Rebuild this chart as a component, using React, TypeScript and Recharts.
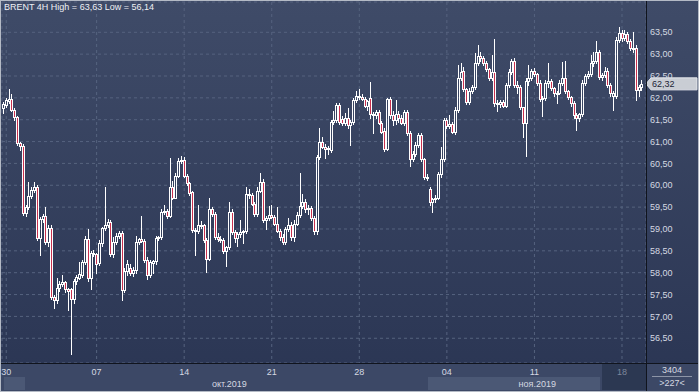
import React from 'react';
import { ComposedChart, Bar, XAxis, YAxis, CartesianGrid, ReferenceLine } from 'recharts';

type Ohlc = [number, number, number, number];

// open, high, low, close of each 4H bar
const weekSep30: Ohlc[] = [
  [61.77, 61.9, 61.65, 61.86], [61.84, 62.0, 61.8, 61.95], [61.93, 62.2, 61.88, 61.98], [61.98, 62.09, 61.7, 61.72],
  [61.72, 61.76, 61.5, 61.56], [61.56, 61.58, 60.92, 60.97], [60.97, 61.0, 60.81, 60.9], [60.9, 60.95, 59.33, 59.37],
  [59.37, 59.55, 59.3, 59.5], [59.5, 60.07, 59.45, 59.75], [59.75, 59.95, 59.7, 59.9], [59.9, 60.07, 59.85, 59.96],
  [59.96, 60.0, 58.75, 58.8], [58.8, 59.27, 58.41, 59.22], [59.22, 59.35, 59.15, 59.3], [59.3, 59.5, 58.65, 58.7],
  [58.7, 59.08, 58.62, 59.02], [59.02, 59.1, 57.4, 57.45], [57.45, 57.5, 57.2, 57.38], [57.38, 57.88, 57.3, 57.65],
  [57.65, 57.8, 57.58, 57.75], [57.75, 57.95, 57.7, 57.78], [57.78, 57.82, 57.55, 57.62], [57.62, 57.66, 57.15, 57.58],
  [57.62, 57.66, 56.14, 57.4], [57.4, 57.85, 57.3, 57.8], [57.8, 57.95, 57.75, 57.9], [57.88, 58.25, 57.85, 57.98],
  [57.95, 58.3, 57.9, 58.25], [58.25, 58.85, 58.2, 58.78], [58.78, 59.0, 57.82, 57.88], [57.88, 58.5, 57.62, 58.45],
  [58.45, 58.52, 58.38, 58.42],
];
const weekOct07: Ohlc[] = [
  [58.42, 58.45, 58.0, 58.2], [58.22, 58.75, 58.18, 58.68], [58.68, 59.05, 58.62, 59.02], [59.02, 59.95, 58.98, 59.1],
  [59.1, 59.22, 59.05, 59.15], [59.15, 59.2, 58.38, 58.42], [58.42, 58.82, 58.35, 58.7], [58.7, 58.9, 58.65, 58.85],
  [58.85, 58.95, 58.8, 58.9], [58.9, 58.95, 57.38, 57.6], [57.6, 58.1, 57.55, 58.05], [58.05, 58.3, 57.95, 58.2],
  [58.1, 58.2, 57.95, 58.0], [58.0, 58.12, 57.92, 58.06], [58.06, 58.85, 58.0, 58.7], [58.7, 58.8, 58.65, 58.76],
  [58.76, 59.3, 58.7, 58.72], [58.72, 58.78, 58.25, 58.3], [58.3, 58.35, 57.85, 57.95], [57.95, 58.3, 57.9, 58.25],
  [58.22, 58.3, 58.0, 58.27], [58.27, 58.85, 58.2, 58.8], [58.8, 58.85, 58.75, 58.82], [58.82, 59.45, 58.78, 59.4],
  [59.4, 59.56, 59.35, 59.42], [59.42, 59.45, 59.25, 59.3], [59.3, 60.62, 59.28, 59.97], [59.97, 60.1, 59.68, 59.72],
  [59.72, 60.28, 59.7, 60.22], [60.22, 60.62, 60.18, 60.55], [60.55, 60.66, 60.5, 60.58],
];
const weekOct14: Ohlc[] = [
  [60.58, 60.64, 60.2, 60.22], [60.22, 60.26, 60.0, 60.05], [60.05, 60.08, 59.78, 59.82], [59.85, 59.88, 58.92, 58.97],
  [58.97, 59.02, 58.4, 58.95], [58.95, 59.55, 58.9, 59.1], [59.1, 59.18, 59.02, 59.08], [59.08, 59.12, 58.7, 58.75],
  [58.75, 58.8, 58.02, 58.32], [58.32, 59.7, 58.28, 59.45], [59.45, 59.5, 59.3, 59.35], [59.35, 59.38, 58.78, 58.82],
  [58.82, 58.9, 58.72, 58.78], [58.78, 58.85, 58.7, 58.75], [58.75, 58.8, 58.45, 58.5], [58.5, 58.62, 58.15, 58.58],
  [58.58, 59.62, 58.55, 59.4], [59.4, 59.45, 58.88, 58.92], [58.92, 58.98, 58.7, 58.8], [58.8, 58.92, 58.6, 58.88],
  [58.88, 59.2, 58.82, 58.92], [58.92, 58.98, 58.68, 58.96], [58.96, 59.95, 58.9, 59.8], [59.8, 59.92, 59.72, 59.78],
  [59.78, 59.82, 59.55, 59.58], [59.58, 59.62, 59.3, 59.35], [59.35, 59.95, 59.3, 59.88], [59.88, 60.28, 59.85, 60.08],
  [60.08, 60.15, 59.15, 59.2], [59.2, 59.3, 59.0, 59.25], [59.25, 59.52, 59.2, 59.32],
];
const weekOct21: Ohlc[] = [
  [59.32, 59.55, 59.25, 59.28], [59.28, 59.32, 59.08, 59.12], [59.12, 59.5, 58.92, 58.96], [58.96, 59.0, 58.75, 58.82],
  [58.82, 58.88, 58.65, 58.7], [58.7, 59.05, 58.65, 59.0], [59.0, 59.25, 58.95, 59.1], [59.1, 59.15, 58.75, 58.82],
  [58.82, 59.2, 58.72, 59.12], [59.12, 59.38, 59.08, 59.32], [59.32, 60.28, 59.28, 59.52], [59.52, 59.8, 59.48, 59.62],
  [59.62, 59.68, 59.4, 59.45], [59.45, 59.55, 59.35, 59.48], [59.48, 59.52, 59.2, 59.25], [59.25, 59.3, 58.88, 58.95],
  [58.95, 60.7, 58.88, 60.64], [60.64, 61.3, 60.6, 61.0], [61.0, 61.1, 60.85, 60.88], [60.88, 60.95, 60.62, 60.82],
  [60.82, 60.9, 60.72, 60.85], [60.8, 61.5, 60.75, 61.45], [61.45, 61.7, 61.4, 61.5], [61.5, 61.88, 61.45, 61.84],
  [61.84, 61.88, 61.4, 61.45], [61.52, 61.58, 61.38, 61.42], [61.42, 61.65, 61.38, 61.55], [61.55, 61.77, 61.32, 61.38],
  [61.38, 61.5, 60.92, 61.45], [61.45, 62.0, 61.4, 61.95], [61.95, 62.15, 61.9, 62.05],
];
const weekOct28: Ohlc[] = [
  [62.05, 62.2, 61.98, 62.02], [62.02, 62.08, 61.95, 61.98], [61.98, 62.02, 61.78, 61.82], [61.82, 61.95, 61.72, 61.92],
  [62.0, 62.36, 61.55, 61.62], [61.62, 61.68, 61.2, 61.6], [61.6, 61.72, 61.55, 61.68], [61.68, 61.72, 61.4, 61.42],
  [61.42, 61.46, 61.2, 61.22], [61.25, 61.3, 60.78, 60.82], [60.82, 62.0, 60.8, 61.97], [61.97, 62.02, 61.55, 61.6],
  [61.6, 61.7, 61.38, 61.5], [61.5, 61.95, 61.4, 61.62], [61.62, 61.7, 61.45, 61.55], [61.55, 61.6, 61.4, 61.42],
  [61.42, 61.72, 61.38, 61.68], [61.68, 61.72, 61.15, 61.2], [61.2, 61.25, 60.45, 60.6], [60.6, 60.78, 60.55, 60.72],
  [60.72, 60.98, 60.68, 60.92], [60.92, 61.2, 60.88, 61.15], [61.15, 61.2, 60.55, 60.6], [60.6, 60.62, 60.15, 60.2],
  [60.2, 60.25, 60.12, 60.18], [59.92, 59.95, 59.55, 59.62], [59.62, 59.72, 59.38, 59.68], [59.68, 59.78, 59.62, 59.72],
  [59.72, 60.3, 59.68, 60.25], [60.25, 60.87, 60.2, 60.6], [60.6, 61.55, 60.55, 61.5],
];
const weekNov04: Ohlc[] = [
  [61.5, 61.55, 61.3, 61.35], [61.35, 61.6, 61.3, 61.4], [61.4, 61.45, 61.2, 61.22], [61.22, 61.78, 61.18, 61.72],
  [61.72, 62.75, 61.68, 62.45], [62.45, 62.8, 62.4, 62.6], [62.62, 62.7, 62.15, 62.2], [62.2, 62.22, 61.85, 61.9],
  [61.9, 62.22, 61.85, 62.15], [62.15, 62.3, 62.1, 62.25], [62.25, 63.02, 62.2, 62.8], [62.8, 63.2, 62.75, 62.95],
  [62.95, 63.05, 62.85, 62.92], [62.92, 62.96, 62.75, 62.8], [62.8, 62.84, 62.62, 62.65], [62.65, 62.68, 62.4, 62.45],
  [62.45, 62.98, 62.4, 62.6], [62.6, 63.35, 61.82, 61.88], [61.88, 61.95, 61.7, 61.85], [61.85, 61.95, 61.8, 61.9],
  [61.9, 61.95, 61.78, 61.82], [61.82, 62.35, 61.78, 62.3], [62.3, 62.65, 62.25, 62.6], [62.6, 62.9, 62.55, 62.85],
  [62.85, 62.92, 62.25, 62.3], [62.3, 62.38, 62.1, 62.25], [62.25, 62.3, 61.75, 61.78], [61.78, 61.8, 61.1, 61.42],
  [61.42, 62.45, 60.68, 62.38], [62.38, 62.75, 62.3, 62.45], [62.45, 62.65, 62.4, 62.62],
];
const weekNov11: Ohlc[] = [
  [62.62, 62.68, 62.5, 62.55], [62.55, 62.58, 62.3, 62.35], [62.35, 62.4, 61.92, 61.98], [61.98, 62.05, 61.58, 62.0],
  [62.0, 62.4, 61.95, 62.35], [62.35, 62.8, 62.25, 62.38], [62.38, 62.42, 62.18, 62.22], [62.22, 62.25, 62.05, 62.1],
  [62.1, 62.15, 61.88, 62.12], [62.12, 62.4, 62.08, 62.35], [62.35, 62.82, 62.3, 62.45], [62.45, 62.85, 62.1, 62.15],
  [62.15, 62.18, 61.98, 62.02], [62.02, 62.05, 61.82, 61.88], [61.88, 61.92, 61.55, 61.6], [61.6, 61.65, 61.26, 61.55],
  [61.55, 61.65, 61.48, 61.62], [61.62, 62.4, 61.58, 62.35], [62.35, 62.55, 62.3, 62.5], [62.5, 62.62, 62.45, 62.55],
  [62.55, 62.98, 62.5, 62.8], [62.8, 63.05, 62.72, 62.85], [62.85, 63.3, 62.8, 63.05], [63.05, 63.1, 62.42, 62.48],
  [62.48, 62.58, 62.4, 62.52], [62.52, 62.7, 62.48, 62.62], [62.62, 62.68, 62.25, 62.3], [62.3, 62.35, 62.05, 62.1],
  [62.05, 62.15, 61.72, 62.12], [62.05, 63.4, 62.0, 63.33], [63.33, 63.63, 63.28, 63.48],
];
const weekNov18: Ohlc[] = [
  [63.48, 63.55, 63.3, 63.38], [63.38, 63.55, 63.32, 63.45], [63.45, 63.5, 63.25, 63.3], [63.3, 63.35, 63.1, 63.15],
  [63.12, 63.5, 63.05, 63.15], [63.15, 63.2, 61.95, 62.18], [62.18, 62.3, 62.05, 62.25], [62.25, 62.4, 62.18, 62.32],
];

const dayLabels = ['30', '07', '14', '21', '28', '04', '11', '18'];
const weekStarts = [1, 33, 64, 95, 126, 157, 188, 219];
const monthLabels = ['окт.2019', 'ноя.2019'];
const monthAt = [80, 189];
const priceTicks = [56.5, 57, 57.5, 58, 58.5, 59, 59.5, 60, 60.5, 61, 61.5, 62, 62.5, 63, 63.5];
const lastPrice = 62.32;
const highPrice = 63.63;
const lowPrice = 56.14;
const barsTotal = 3404;
const barsVisible = 227;

const allBars = [
  ...weekSep30, ...weekOct07, ...weekOct14, ...weekOct21,
  ...weekOct28, ...weekNov04, ...weekNov11, ...weekNov18,
];
const data: any[] = allBars.map(([o, h, l, c], i) => ({ i, o, h, l, c, range: [l, h] }));
data.push({ i: allBars.length }); // free slot on the right edge

const RED = '#c8304e';
const TXT = '#d5d9e2';
const FONT = '"Liberation Sans", Arial, sans-serif';
const comma = (v: number) => v.toFixed(2).replace('.', ',');

function Candle(props: any) {
  const { x, y, width, height, payload } = props;
  if (!payload || payload.o == null) return null;
  const { o, h, l, c } = payload;
  const top0 = Math.min(y, y + height);
  const hh = Math.abs(height);
  const span = h - l || 1;
  const py = (p: number) => top0 + ((h - p) / span) * hh;
  const cx = Math.floor(x + width / 2);
  const yH = Math.round(top0);
  const yL = Math.round(top0 + hh);
  const bTop = Math.round(py(Math.max(o, c)));
  const bBot = Math.max(bTop + 1, Math.round(py(Math.min(o, c))));
  const bear = c < o;
  return (
    <g shapeRendering="crispEdges">
      {bTop > yH && <rect x={cx} y={yH} width={1} height={bTop - yH} fill="#fff" />}
      {yL > bBot && <rect x={cx} y={bBot} width={1} height={yL - bBot + 1} fill="#fff" />}
      <rect x={cx - 1} y={bTop} width={1} height={bBot - bTop + 1} fill="#fff" />
      <rect x={cx + 1} y={bTop} width={1} height={bBot - bTop + 1} fill="#fff" />
      <rect x={cx} y={bTop} width={1} height={1} fill="#fff" />
      <rect x={cx} y={bBot} width={1} height={1} fill="#fff" />
      {bear && bBot - bTop > 1 && <rect x={cx} y={bTop + 1} width={1} height={bBot - bTop - 1} fill={RED} />}
    </g>
  );
}

function DayTick(props: any) {
  const { x, y, payload } = props;
  const k = weekStarts.indexOf(payload.value);
  if (k < 0) return null;
  const dim = k === dayLabels.length - 1;
  return (
    <text x={x} y={y + 12} textAnchor="middle" fontSize={9} fontFamily={FONT} fill={dim ? '#7d869b' : TXT}>
      {dayLabels[k]}
    </text>
  );
}

function MonthTick(props: any) {
  const { x, y, payload } = props;
  const k = monthAt.indexOf(payload.value);
  if (k < 0) return null;
  return (
    <text x={x} y={y + 11} textAnchor="middle" fontSize={9} fontFamily={FONT} fill={TXT}>
      {monthLabels[k]}
    </text>
  );
}

function PriceTag(props: any) {
  const vb = props.viewBox || {};
  const x0 = vb.x + vb.width;
  const y0 = vb.y;
  return (
    <g>
      <polygon
        points={`${x0},${y0} ${x0 + 5},${y0 - 6} ${x0 + 51},${y0 - 6} ${x0 + 51},${y0 + 6} ${x0 + 5},${y0 + 6}`}
        fill="#c9cdd4"
        stroke="#e4e7ec"
        strokeWidth={1}
      />
      <text x={x0 + 6} y={y0 + 3.5} fontSize={9} fontFamily={FONT} fill="#1c2436">
        {comma(lastPrice)}
      </text>
    </g>
  );
}

export default function App() {
  return (
    <div
      style={{
        position: 'absolute',
        left: 0,
        top: 0,
        width: 699,
        height: 392,
        background: 'linear-gradient(#3f4b68, #2a3553)',
        fontFamily: FONT,
        overflow: 'hidden',
      }}
    >
      <div style={{ position: 'absolute', left: 0, top: 363, width: 699, height: 29, background: '#3c4866' }} />
      <div style={{ position: 'absolute', left: 4, top: 377, width: 21, height: 13, background: '#4b5875' }} />
      <div style={{ position: 'absolute', left: 428, top: 377, width: 172, height: 13, background: '#4b5875' }} />
      <div style={{ position: 'absolute', left: 602, top: 364, width: 44, height: 26, background: '#2c3852' }} />

      <ComposedChart
        width={699}
        height={392}
        data={data}
        margin={{ top: 2, right: 1, bottom: 0, left: 2 }}
        barCategoryGap={0}
      >
        <CartesianGrid stroke="#56637f" strokeDasharray="3 3" />
        <XAxis
          dataKey="i"
          xAxisId={0}
          ticks={weekStarts}
          interval={0}
          height={13}
          tickLine={false}
          axisLine={false}
          tickSize={0}
          tickMargin={0}
          tick={<DayTick />}
        />
        <XAxis
          dataKey="i"
          xAxisId="m"
          ticks={monthAt}
          interval={0}
          height={16}
          tickLine={false}
          axisLine={false}
          tickSize={0}
          tickMargin={0}
          tick={<MonthTick />}
        />
        <YAxis
          orientation="right"
          width={52}
          domain={[55.934, 64.193]}
          allowDataOverflow
          ticks={priceTicks}
          interval={0}
          tickLine={false}
          axisLine={false}
          tickSize={0}
          tickMargin={4}
          tickFormatter={comma}
          tick={{ fill: TXT, fontSize: 9, fontFamily: FONT }}
        />
        <Bar dataKey="range" xAxisId={0} shape={<Candle />} isAnimationActive={false} />
        <ReferenceLine y={lastPrice} xAxisId={0} stroke="none" ifOverflow="visible" label={<PriceTag />} />
      </ComposedChart>

      <div style={{ position: 'absolute', left: 0, top: 363, width: 699, height: 1, background: '#10141d' }} />
      <div style={{ position: 'absolute', left: 646, top: 0, width: 1, height: 392, background: '#10141d' }} />
      <div style={{ position: 'absolute', left: 4, top: 2, fontSize: 9, color: '#eef0f4', whiteSpace: 'nowrap' }}>
        BRENT 4H High = {comma(highPrice)} Low = {comma(lowPrice)}
      </div>
      <div style={{ position: 'absolute', left: 647, top: 365, width: 50, textAlign: 'center', fontSize: 9, color: TXT }}>
        {barsTotal}
      </div>
      <div style={{ position: 'absolute', left: 652, top: 376, width: 40, height: 1, background: '#8d95a7' }} />
      <div style={{ position: 'absolute', left: 647, top: 378, width: 50, textAlign: 'center', fontSize: 9, color: TXT }}>
        &gt;{barsVisible}&lt;
      </div>
      <div
        style={{
          position: 'absolute',
          left: 0,
          top: 0,
          width: 697,
          height: 390,
          border: '1px solid #b4bac5',
          pointerEvents: 'none',
        }}
      />
    </div>
  );
}
